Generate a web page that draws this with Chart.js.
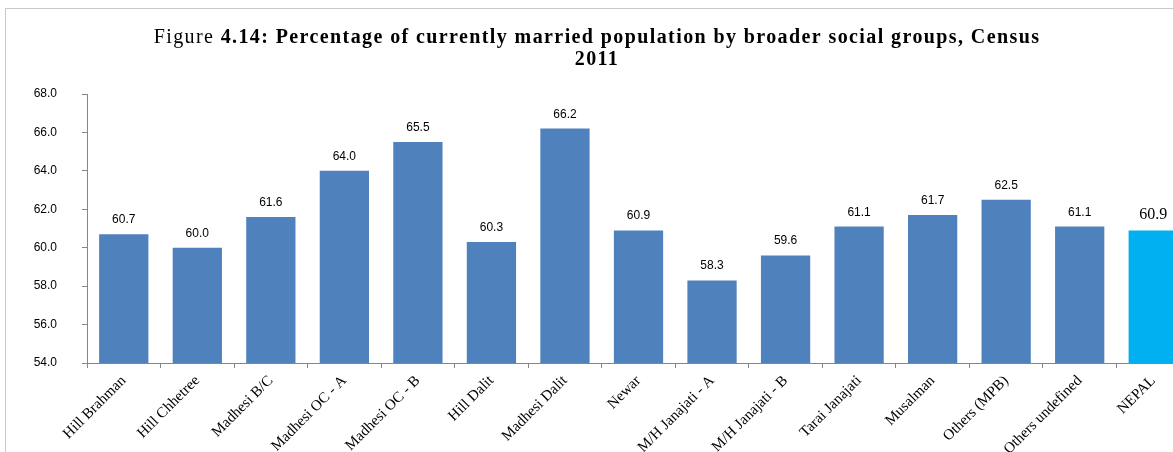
<!DOCTYPE html>
<html>
<head>
<meta charset="utf-8">
<script src="https://cdn.jsdelivr.net/npm/chart.js@4"></script>
<style>
  html, body { margin: 0; padding: 0; background: #fff; overflow: hidden; }
  body { width: 1173px; height: 452px; position: relative; }
  #frame { position: absolute; left: 5px; top: 8px; width: 1186px; height: 444px;
           border-top: 1px solid #c8c8c8; border-left: 1px solid #c8c8c8; }
  #wrap { position: absolute; left: 0; top: 0; width: 1186px; height: 444px; }
</style>
</head>
<body>
<div id="frame"><div id="wrap"><canvas id="marriedChart"></canvas></div></div>
<script>
const groups = ['Hill Brahman', 'Hill Chhetree', 'Madhesi B/C', 'Madhesi OC - A', 'Madhesi OC - B',
  'Hill Dalit', 'Madhesi Dalit', 'Newar', 'M/H Janajati - A', 'M/H Janajati - B',
  'Tarai Janajati', 'Musalman', 'Others (MPB)', 'Others undefined', 'NEPAL'];
const marriedPct = [60.7, 60.0, 61.6, 64.0, 65.5, 60.3, 66.2, 60.9, 58.3, 59.6, 61.1, 61.7, 62.5, 61.1, 60.9];
const yTicks = [54, 56, 58, 60, 62, 64, 66, 68];
const titleLead = 'Figure ';
const titleMain = '4.14: Percentage of currently married population by broader social groups, Census';
const titleYear = '2011';

const barColors = groups.map(g => g === 'NEPAL' ? '#00B0F0' : '#4F81BD');
const serif = '"Liberation Serif", "Times New Roman", serif';
const sans = '"Liberation Sans", Arial, sans-serif';

// title: "Figure" plain, rest bold, spaced out like the original
const figTitle = {
    id: 'figTitle',
    afterDraw(chart) {
        const ctx = chart.ctx;
        const cx = 591;
        ctx.save();
        ctx.fillStyle = '#000';
        ctx.textBaseline = 'alphabetic';
        ctx.textAlign = 'left';
        ctx.letterSpacing = '1.4px';
        ctx.font = '20px ' + serif;
        const w1 = ctx.measureText(titleLead).width;
        ctx.font = 'bold 20px ' + serif;
        const w2 = ctx.measureText(titleMain).width;
        let x = cx - (w1 + w2) / 2;
        ctx.font = '20px ' + serif;
        ctx.fillText(titleLead, x, 34);
        ctx.font = 'bold 20px ' + serif;
        ctx.fillText(titleMain, x + w1, 34);
        const w3 = ctx.measureText(titleYear).width;
        ctx.fillText(titleYear, cx - w3 / 2, 56);
        ctx.restore();
    }
};

// value labels above each bar
const valueLabels = {
    id: 'valueLabels',
    afterDatasetsDraw(chart) {
        const ctx = chart.ctx;
        const meta = chart.getDatasetMeta(0);
        ctx.save();
        ctx.fillStyle = '#000';
        ctx.textAlign = 'center';
        ctx.textBaseline = 'alphabetic';
        meta.data.forEach((bar, i) => {
            ctx.font = groups[i] === 'NEPAL' ? '16px ' + serif : '12px ' + sans;
            ctx.fillText(marriedPct[i].toFixed(1), bar.x, bar.y - 11);
        });
        ctx.restore();
    }
};

const ctx1 = document.getElementById('marriedChart');

const chart1 = new Chart(ctx1, {
    type: 'bar',
    data: {
        labels: groups,
        datasets: [{
            label: 'Percentage currently married',
            data: marriedPct,
            backgroundColor: barColors,
            borderWidth: 0,
            barPercentage: 0.67,
            categoryPercentage: 1.0
        }]
    },
    options: {
        responsive: true,
        maintainAspectRatio: false,
        animation: false,
        layout: { padding: { left: 0, right: 2, top: 85, bottom: 0 } },
        plugins: {
            legend: { display: false },
            tooltip: { enabled: false },
            title: { display: false }
        },
        scales: {
            x: {
                grid: { display: true, drawOnChartArea: false, drawTicks: true, tickLength: 5, offset: true, color: '#868686' },
                border: { display: true, color: '#868686' },
                ticks: {
                    color: '#000',
                    font: { family: serif, size: 15 },
                    minRotation: 45,
                    maxRotation: 45,
                    autoSkip: false,
                    padding: 4
                },
                afterFit(scale) { scale.height = 90; }
            },
            y: {
                min: 54,
                max: 68,
                grid: { display: true, drawOnChartArea: false, drawTicks: true, tickLength: 5, color: '#868686' },
                border: { display: true, color: '#868686' },
                afterBuildTicks(scale) { scale.ticks = yTicks.map(v => ({ value: v })); },
                ticks: {
                    color: '#000',
                    font: { family: sans, size: 12 },
                    padding: 25,
                    callback: v => Number(v).toFixed(1)
                },
                afterFit(scale) { scale.width = 81; }
            }
        }
    },
    plugins: [valueLabels, figTitle]
});
</script>
</body>
</html>
